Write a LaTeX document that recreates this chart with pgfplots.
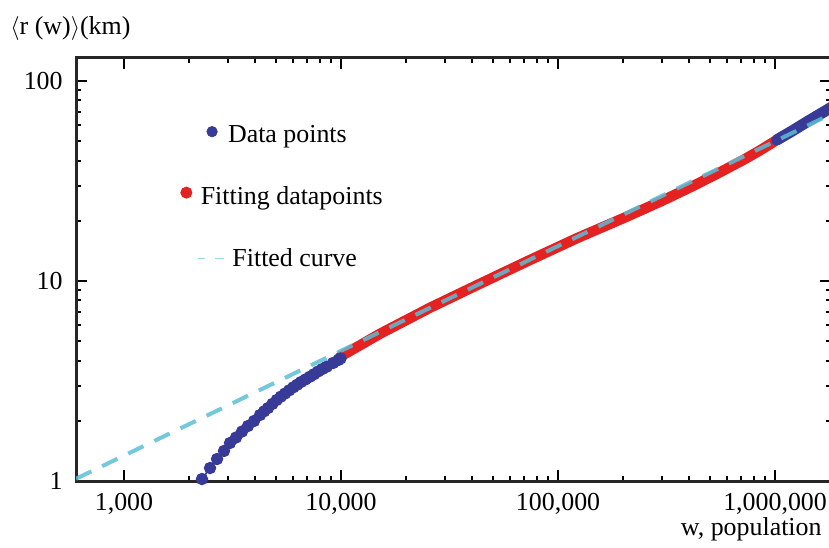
\documentclass[border=0pt]{standalone}
\usepackage{fontspec}
\setmainfont{Liberation Serif}
\usepackage{pgfplots}
\pgfplotsset{compat=1.18}
\definecolor{dataBlue}{RGB}{56,58,152}
\definecolor{fitRed}{RGB}{228,34,34}
\definecolor{fitCyan}{RGB}{92,190,214}
\begin{document}
\begin{tikzpicture}[font=\fontsize{13}{15.6}\selectfont]
\begin{axis}[
  at={(0,0)}, anchor=south west,
  scale only axis, width=377.5bp, height=211.5bp,
  xmode=log, ymode=log,
  xmin=601, xmax=1.81e6, ymin=1, ymax=130.3,
  xtick={1000,10000,100000,1000000},
  xticklabels={{1,000},{10,000},{100,000},{1,000,000}},
  ytick={1,10,100},
  yticklabels={1,10,100},
  tick align=inside,
  major tick length=5.5bp, minor tick length=2.75bp,
  every tick/.style={black, line width=1bp},
  axis line style={line width=1.5bp, black!85},
  xticklabel style={anchor=north, inner sep=0pt, yshift=-6bp},
  yticklabel style={anchor=east, inner sep=0pt, xshift=-6.5bp},
  xlabel={w, population},
  every axis x label/.style={at={(axis description cs:0.988,-0.130)}, anchor=base east, inner sep=0pt},
  ylabel={$\big\langle$r (w)$\big\rangle$(km)},
  every axis y label/.style={at={(axis description cs:-0.0874,1.0567)}, anchor=base west, inner sep=0pt},
  legend style={at={(0.1377,0.8522)}, anchor=north west, draw=none, fill=none,
    inner sep=0pt, outer sep=0pt, row sep=18.65bp, column sep=0pt,
    cells={anchor=base west}, nodes={inner sep=0pt, outer sep=0pt}},
]
% legend
\addlegendimage{legend image code/.code={\path (-3bp,0bp) (20bp,0bp); \fill[dataBlue] (12.85bp,5.3bp) circle (2.6bp);}}
\addlegendentry{\hspace{0.65bp}\strut Data points}
\addlegendimage{legend image code/.code={\path (-3bp,0bp) (20bp,0bp); \fill[fitRed] (0bp,5.85bp) circle (2.8bp);}}
\addlegendentry{\hspace{-13bp}\strut Fitting datapoints}
\addlegendimage{legend image code/.code={\path (-3bp,0bp) (20bp,0bp); \draw[fitCyan!60,line width=0.8bp] (5.85bp,4bp) -- (9.5bp,4bp) (14.5bp,4bp) -- (18.65bp,4bp);}}
\addlegendentry{\hspace{2.85bp}\strut Fitted curve}

% data points (small w)
\addplot[forget plot, dataBlue, line width=0.8bp, mark=*, mark size=2.7bp,
  mark options={fill=dataBlue, draw=dataBlue}] coordinates {
(2288,1.023) (2491,1.161) (2683,1.288) (2889,1.413) (3079,1.549)
(3282,1.650) (3498,1.768) (3727,1.884) (3973,1.995) (4233,2.138)
(4420,2.23) (4610,2.317) (4830,2.43) (5054,2.541) (5280,2.64)
(5520,2.738) (5770,2.84) (6029,2.941) (6280,3.03) (6542,3.126)
(6860,3.22) (7196,3.323) (7510,3.42) (7834,3.528) (8200,3.63)
(8594,3.729) (9186,3.890) (9719,4.027) (9950,4.10)
};
% fitting datapoints
\addplot[forget plot, fitRed, line width=5.2bp, line cap=round, line join=round] coordinates {
(9886,4.18) (15136,5.45) (25704,7.35) (43750,9.70) (74300,12.74)
(121900,16.35) (207400,20.97) (300000,25.1) (420000,29.9) (550000,34.7)
(714000,40.3) (850000,44.9) (1018000,50.7)
};
% data points (large w)
\addplot[forget plot, dataBlue, line width=5.6bp, line cap=round] coordinates {
(1018000,50.7) (1200000,56.3) (1400000,62.4) (1600000,68.0) (1800000,73.4) (2000000,78.5)
};
% fitted curve
\addplot[forget plot, fitCyan, line width=2bp, dash pattern=on 8.5bp off 6bp, opacity=0.85] coordinates {
(601,1.026) (1810000,68.2)
};
\end{axis}
\pgfresetboundingbox
\useasboundingbox (-38bp,-33.5bp) rectangle (376.5bp,240.5bp);
\end{tikzpicture}
\end{document}
